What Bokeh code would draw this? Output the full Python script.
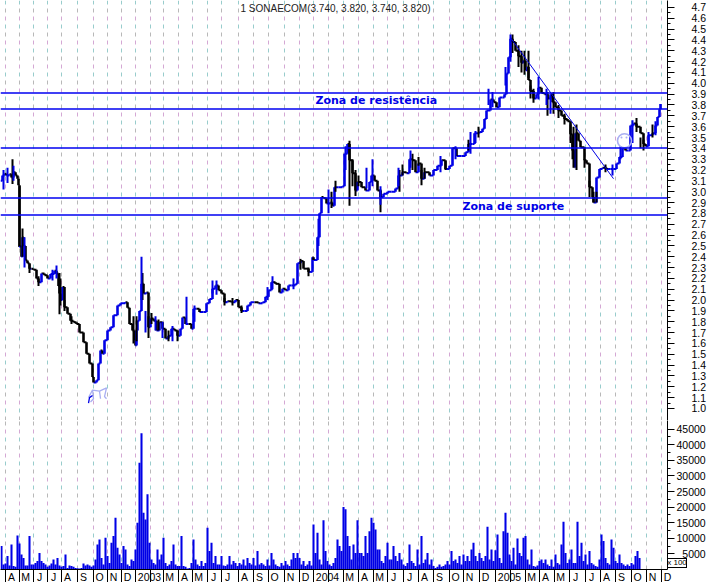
from bokeh.embed import file_html
from bokeh.resources import INLINE
from bokeh.plotting import figure
from bokeh.layouts import column
from bokeh.models import Div, FixedTicker, Grid, Range1d, Span
from bokeh.core.properties import value

TITLE = "1 SONAECOM(3.740, 3.820, 3.740, 3.820)"
month_labels = ["A","M","J","J","A","S","O","N","D","2003","","M","A","M","J","J","A","S","O","N","D","2004","","M","A","M","J","J","A","S","O","N","D","2005","","M","A","M","J","J","A","S","O","N","D"]
month_sessions = [5,19,33,47,61,77,93,107,121,135,150,163,178,192,207,221,238,253,268,284,299,313,328,343,358,373,387,403,418,433,449,463,479,495,510,525,539,554,569,585,600,615,631,646,661]
price_ticks = [1.0,1.1,1.2,1.3,1.4,1.5,1.6,1.7,1.8,1.9,2.0,2.1,2.2,2.3,2.4,2.5,2.6,2.7,2.8,2.9,3.0,3.1,3.2,3.3,3.4,3.5,3.6,3.7,3.8,3.9,4.0,4.1,4.2,4.3,4.4,4.5,4.6,4.7]
volume_ticks = [5000,10000,15000,20000,25000,30000,35000,40000,45000]

sessions = [0,2,4,6,9,11,13,15,17,18,19,20,21,22,23,25,27,29,31,33,36,38,41,44,47,50,54,56,58,59,60,62,64,67,70,73,76,79,83,86,89,92,93,96,98,100,102,104,107,110,113,117,120,125,127,129,132,134,135,136,137,139,141,143,146,148,150,153,156,159,162,165,168,171,174,177,180,182,185,188,191,193,196,199,203,206,209,212,215,218,221,224,227,231,235,238,241,244,247,250,254,258,262,265,268,271,275,279,282,285,288,291,295,297,300,303,308,312,313,317,319,321,323,326,330,332,334,338,342,344,347,349,352,355,357,361,365,369,371,374,377,380,383,387,391,395,398,402,406,409,412,415,418,421,424,429,433,437,441,445,449,452,456,461,465,468,472,474,479,482,484,486,490,493,496,499,502,504,506,508,510,512,515,518,521,523,525,527,528,530,533,536,538,541,544,547,550,552,555,558,561,564,567,570,572,574,575,578,580,584,586,589,592,593,596,599,602,606,610,613,616,619,622,625,628,630,633,636,640,643,645,648,652,655,657,659,660]
close = [3.10,3.15,3.165,3.15,3.16,3.13,3.18,3.15,3.12,3.06,2.49,2.50,2.40,2.58,2.50,2.365,2.34,2.29,2.29,2.28,2.20,2.165,2.245,2.23,2.20,2.24,2.27,2.245,2.13,2.06,2.00,2.12,1.935,1.875,1.81,1.795,1.78,1.70,1.61,1.505,1.415,1.29,1.24,1.26,1.415,1.535,1.505,1.63,1.72,1.75,1.86,1.95,1.97,1.98,1.93,1.78,1.72,1.63,1.58,1.72,1.81,1.90,2.15,2.06,2.07,1.75,1.83,1.81,1.72,1.795,1.735,1.645,1.67,1.735,1.72,1.67,1.735,1.84,1.78,1.78,1.735,1.92,1.92,1.89,1.89,1.97,2.01,2.105,2.135,2.09,2.06,1.98,1.99,1.98,2.0,1.935,1.90,1.90,1.95,1.98,1.98,1.97,1.98,2.03,2.09,2.165,2.15,2.07,2.105,2.09,2.135,2.135,2.15,2.34,2.36,2.29,2.26,2.395,2.37,2.58,2.80,2.95,2.94,2.89,2.90,2.87,3.04,3.04,3.05,3.35,3.44,3.29,3.17,3.01,3.09,3.04,3.01,3.09,3.15,3.10,3.01,2.95,2.98,3.00,3.00,3.03,3.15,3.18,3.17,3.30,3.29,3.18,3.26,3.12,3.18,3.15,3.20,3.24,3.29,3.21,3.24,3.40,3.33,3.33,3.365,3.44,3.44,3.54,3.55,3.58,3.67,3.75,3.85,3.825,3.78,3.87,3.87,3.90,4.09,4.24,4.41,4.38,4.30,4.25,4.19,4.21,4.12,4.15,4.03,3.93,3.86,3.90,3.96,3.91,3.90,3.86,3.90,3.825,3.78,3.75,3.70,3.67,3.65,3.53,3.38,3.225,3.54,3.47,3.41,3.29,3.26,3.04,2.95,2.90,3.13,3.21,3.22,3.21,3.21,3.21,3.26,3.32,3.40,3.38,3.38,3.61,3.63,3.60,3.54,3.44,3.42,3.52,3.54,3.61,3.69,3.76,3.81]

black_wick_sessions = [12,19,22,59,60,142,349,352,355,380,573,576,589,593,572,528,547,133,331,399,421,652,29,38,64,71,136,148,151,158,168,177,224,232,241,300,308,335,358,402,412,418,424,445,468,478,512,518,521,524,530,533,553,558,564,570,584,596,605,636,640,643]
black_wick_low =  [3.07,2.50,2.40,1.87,1.95,2.00,2.87,3.05,2.96,2.81,3.22,3.20,2.95,2.90,3.30,4.05,3.70,1.60,2.85,3.00,3.06,3.50,2.25,2.13,1.90,1.78,1.62,1.65,1.78,1.72,1.62,1.62,1.95,1.95,1.88,2.28,2.22,3.00,3.05,3.15,3.20,3.24,3.12,3.20,3.38,3.50,4.28,4.15,4.10,4.08,3.86,3.82,3.72,3.68,3.62,3.45,3.22,2.90,3.18,3.55,3.40,3.38]
black_wick_high = [3.30,3.05,2.66,2.25,2.20,2.25,3.47,3.30,3.20,3.02,3.60,3.62,3.10,3.00,3.50,4.30,3.92,1.85,3.00,3.20,3.20,3.62,2.33,2.22,2.00,1.85,1.85,1.85,1.88,1.82,1.72,1.72,2.02,2.02,1.95,2.38,2.30,3.10,3.15,3.25,3.35,3.32,3.22,3.28,3.48,3.60,4.45,4.35,4.30,4.30,3.98,3.95,3.92,3.80,3.72,3.62,3.30,3.00,3.25,3.68,3.50,3.48]
blue_wick_sessions = [3,7,13,24,52,56,141,145,155,162,172,186,194,212,216,267,272,293,318,328,345,366,372,380,398,410,440,455,470,475,488,492,505,510,538,546,550,612,620,632,648,655]
blue_wick_low =  [3.02,3.08,3.10,2.30,2.18,2.20,2.00,1.70,1.72,1.65,1.62,1.78,1.80,2.06,2.05,2.00,2.10,2.10,2.50,2.80,3.20,3.03,3.05,2.88,3.05,3.22,3.18,3.30,3.35,3.45,3.80,3.78,3.98,4.20,3.85,3.80,3.72,3.15,3.30,3.45,3.42,3.52]
blue_wick_high = [3.20,3.22,3.24,2.58,2.28,2.32,2.40,1.90,1.85,1.80,1.76,2.03,1.95,2.18,2.18,2.12,2.22,2.20,2.75,3.02,3.42,3.22,3.30,3.05,3.22,3.38,3.33,3.42,3.55,3.56,3.95,3.92,4.15,4.45,4.06,3.95,3.88,3.25,3.42,3.66,3.55,3.65]

resistance_levels = [3.9106,3.7630,3.4032,2.9419,2.7851]
trend_sessions = [510,613]
trend_prices = [4.42,3.12]

volume = [7500,1600,1900,4300,1300,8000,1100,900,10900,8300,4800,3700,1300,1300,10700,1600,1600,2100,2700,5300,2700,2100,1600,900,1300,1900,3200,1600,3700,1300,900,1100,4800,500,1300,1100,900,500,400,300,500,1900,1300,1600,1300,900,1300,3200,8000,9600,3700,1600,10200,4300,2100,8600,10700,16600,7000,4800,2100,7500,6400,1600,1100,3200,2700,6400,15000,34200,43700,18200,16000,24100,8600,3200,2100,1600,6400,3200,4800,10200,2100,1100,1600,2700,8000,1600,1100,1100,10700,1100,900,300,500,2100,9600,3200,1600,1100,2700,1100,2100,13400,5900,8600,2100,4300,1600,1600,4300,1300,1100,1600,4300,1600,2700,2100,1100,2100,
1600,3200,1300,3700,2100,1600,3700,1300,5900,1600,2100,1600,1100,3200,1300,5300,3200,1600,1100,900,2100,1300,2700,1600,1100,3200,5300,3700,5300,3700,1600,2700,1100,1600,2700,1300,14400,5300,11800,3200,1600,15800,5900,2700,1600,1100,2100,3700,9600,7500,5900,20000,19300,10700,7500,3200,8000,5300,15800,5300,5300,4300,10700,5300,12300,16600,15000,12800,6400,6400,2700,2100,4300,8600,3200,3200,7500,4300,2700,5300,3200,1600,1100,2100,8000,2700,2100,1100,6400,1600,10700,2100,3200,5300,1600,3200,1100,500,900,1600,900,1100,1600,2700,1600,5900,2700,3200,2100,4300,1600,4800,
2700,4300,2700,6400,8600,4300,2700,5300,3700,2700,4300,13700,3200,6400,2700,6200,11200,3700,2100,12300,18200,11800,4800,2700,7000,1600,9900,5300,4300,10200,10700,3200,1600,6400,1100,900,1300,2700,3200,2100,3200,1600,1100,3200,900,4800,2100,1600,8000,15300,5300,2100,3200,6400,2100,2100,15300,4300,8600,2700,4800,1600,5900,2100,1600,1100,900,3200,11200,9100,3700,2100,1600,9600,7000,2700,2100,4800,2100,1600,1100,1600,1100,2100,1600,4300,5900,3700]

LEFT, RIGHT = 0, 667
PRICE_BOTTOM, PRICE_TOP = 0.889, 4.764
VOLUME_TOP = 47760
BLUE = "#0000e6"
PALE = "#a9aff2"
FONT = "Liberation Sans"

def grids(p):
    for color, off in (("#b8b8b8", 0), ("#d4a8d4", 8), ("#98cccc", 16)):
        p.add_layout(Grid(dimension=0, ticker=FixedTicker(ticks=month_sessions),
                          grid_line_color=color, grid_line_dash="4 20", grid_line_dash_offset=off,
                          grid_line_width=1))

price = figure(output_backend="svg", toolbar_location=None, frame_width=RIGHT, frame_height=420,
               x_range=Range1d(LEFT, RIGHT), y_range=Range1d(PRICE_BOTTOM, PRICE_TOP),
               x_axis_location=None, y_axis_location="right",
               min_border_left=0, min_border_top=0, min_border_bottom=0, min_border_right=40,
               background_fill_color="white", border_fill_color="white", outline_line_color=None)
price.grid.visible = False
grids(price)
price.yaxis.ticker = FixedTicker(ticks=price_ticks, minor_ticks=[round(t + 0.05, 2) for t in price_ticks[:-1]])
price.yaxis.major_label_overrides = {t: f"{t:.1f}" for t in price_ticks}
price.yaxis.major_tick_out = 7
price.yaxis.major_tick_in = 0
price.yaxis.minor_tick_out = 3
price.yaxis.minor_tick_in = 0
price.yaxis.major_label_standoff = 17
price.yaxis.axis_line_color = "black"
price.yaxis.major_label_text_font = FONT
price.yaxis.major_label_text_font_size = "10.5px"
price.yaxis.major_label_text_color = "black"

vx, vy0, vy1, vc, hx0, hx1, hy, hc = [], [], [], [], [], [], [], []
for i in range(1, len(close)):
    vx.append(sessions[i]); vy0.append(close[i-1]); vy1.append(close[i])
    c = BLUE if close[i] >= close[i-1] else "black"
    vc.append(c)
    hx0.append(sessions[i-1]); hx1.append(sessions[i]); hy.append(close[i-1]); hc.append(c)
price.segment(x0=hx0, y0=hy, x1=hx1, y1=hy, line_color=hc, line_width=2)
price.segment(x0=vx, y0=vy0, x1=vx, y1=vy1, line_color=vc, line_width=2.6)
price.segment(black_wick_sessions, black_wick_low, black_wick_sessions, black_wick_high, line_color="black", line_width=2)
price.segment(blue_wick_sessions, blue_wick_low, blue_wick_sessions, blue_wick_high, line_color=BLUE, line_width=2)

for lvl in resistance_levels:
    price.add_layout(Span(location=lvl, dimension="width", line_color="#0000f0", line_width=1.3))
price.line(trend_sessions, trend_prices, line_color=BLUE, line_width=1)

# hand-drawn marks of the original
price.scatter([624], [3.47], size=14, marker="circle", fill_color=None, line_color=PALE, line_width=1.6)
price.scatter([621, 626], [3.50, 3.50], size=2, marker="circle", fill_color=PALE, line_color=None)
price.multi_line([[88, 92, 99, 106, 104, 106], [92, 93, 90], [99, 100], [88, 89, 92]],
                 [[1.10, 1.17, 1.16, 1.19, 1.11, 1.09], [1.17, 1.09, 1.06], [1.16, 1.09], [1.05, 1.10, 1.12]],
                 line_color=[PALE, PALE, PALE, BLUE], line_width=1.3)

price.text(x=[315], y=[3.84], text=["Zona de resistência"], text_font=value("DejaVu Sans"),
           text_font_style="bold", text_font_size="11px", text_color=BLUE,
           text_align="left", text_baseline="middle")
price.text(x=[462], y=[2.86], text=["Zona de suporte"], text_font=value("DejaVu Sans"),
           text_font_style="bold", text_font_size="11px", text_color=BLUE,
           text_align="left", text_baseline="middle")
price.text(x=[240], y=[4.69], text=[TITLE], text_font=value(FONT), text_font_size="10px",
           text_color="#222222", text_align="left", text_baseline="middle")

vol = figure(output_backend="svg", toolbar_location=None, frame_width=RIGHT, frame_height=149,
             x_range=Range1d(LEFT, RIGHT), y_range=Range1d(0, VOLUME_TOP),
             y_axis_location="right", x_axis_location="below",
             min_border_left=0, min_border_top=0, min_border_bottom=13, min_border_right=40,
             background_fill_color="white", border_fill_color="white", outline_line_color=None)
vol.grid.visible = False
grids(vol)
vol.vbar(x=[1 + 2 * i for i in range(len(volume))], top=volume, bottom=0, width=2.05, fill_color=BLUE, line_color=None)
vol.yaxis.ticker = FixedTicker(ticks=volume_ticks, minor_ticks=[t + 2500 for t in volume_ticks[:-1]] + [2500])
vol.yaxis.major_label_overrides = {5000: "\u20075000"}
vol.yaxis.major_tick_out = 7
vol.yaxis.major_tick_in = 0
vol.yaxis.minor_tick_out = 3
vol.yaxis.minor_tick_in = 0
vol.yaxis.major_label_standoff = 2
vol.yaxis.axis_line_color = "black"
vol.yaxis.formatter.use_scientific = False
vol.yaxis.major_label_text_font = FONT
vol.yaxis.major_label_text_font_size = "10.5px"
vol.yaxis.major_label_text_color = "black"

label_ticks = [s + 2 + 3.0 * len(m) if len(m) > 1 else s + 6 for s, m in zip(month_sessions, month_labels)]
vol.xaxis.ticker = FixedTicker(ticks=label_ticks, minor_ticks=month_sessions)
vol.xaxis.major_label_overrides = {t: m for t, m in zip(label_ticks, month_labels)}
vol.xaxis.major_tick_line_color = None
vol.xaxis.major_tick_out = 0
vol.xaxis.major_tick_in = 0
vol.xaxis.minor_tick_out = 13
vol.xaxis.minor_tick_in = 0
vol.xaxis.major_label_standoff = -12
vol.xaxis.axis_line_color = "black"
vol.xaxis.major_label_text_font = FONT
vol.xaxis.major_label_text_font_size = "10.5px"
vol.xaxis.major_label_text_color = "black"

unit_box = Div(text="x 100", margin=0,
               styles={"position": "absolute", "left": "667px", "top": "558px", "width": "20px", "height": "10px",
                       "outline": "1px solid black", "outline-offset": "-1px", "overflow": "hidden",
                       "font-family": FONT, "font-size": "8px", "line-height": "10px", "background": "white",
                       "color": "black", "white-space": "nowrap", "text-align": "center", "z-index": "5"})

layout = column(price, vol, unit_box, spacing=0)
open("out.html", "w").write(file_html(layout, INLINE))
